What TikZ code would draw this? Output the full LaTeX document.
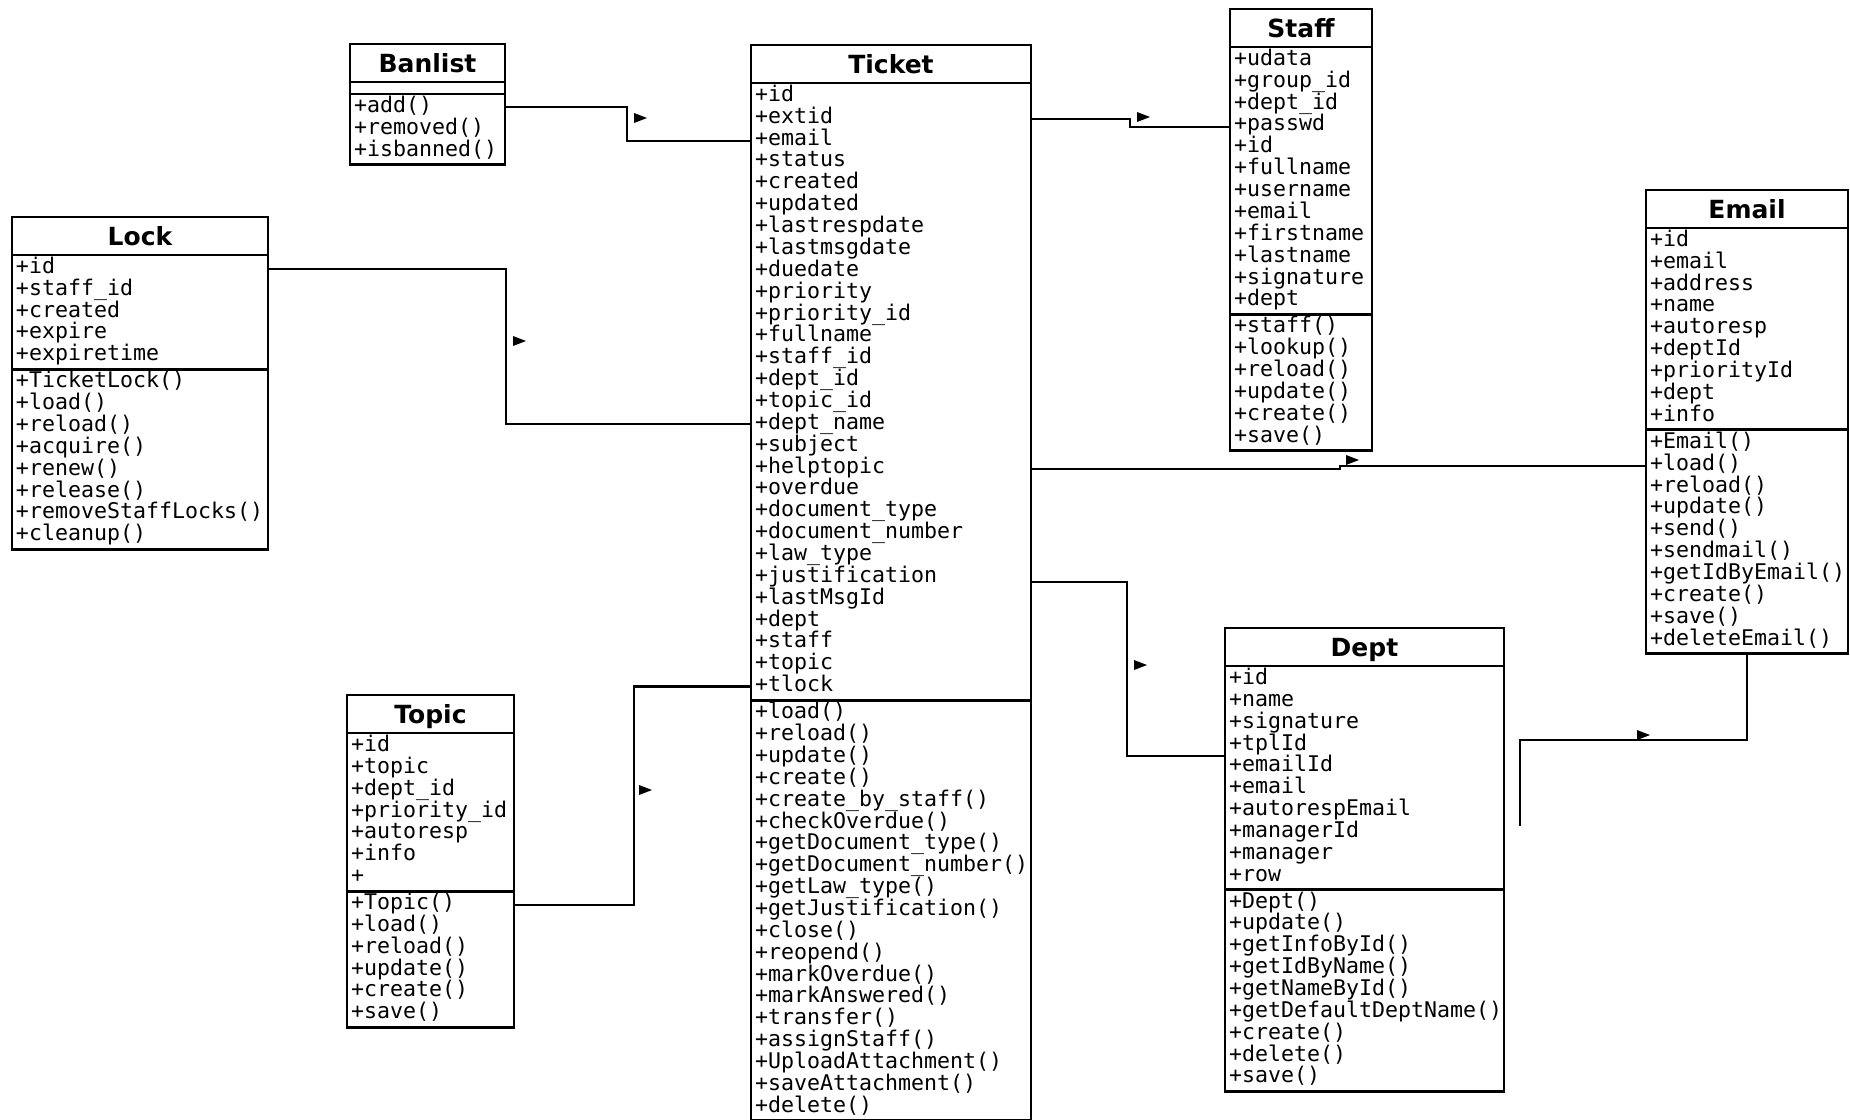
\documentclass[tikz,border=0pt]{standalone}
\usepackage{fontspec}
\usetikzlibrary{positioning}
\newfontfamily\umlmono{DejaVu Sans Mono}[HyphenChar=None]
\newfontfamily\umlsans{DejaVu Sans}
\tikzset{
  uml/.style={x=0.5pt, y=-0.5pt, line width=1.4pt,
              every node/.style={draw, outer sep=0pt, inner xsep=2pt, inner ysep=1pt}},
  chead/.style={minimum width=#1, minimum height=19pt, text height=9.1pt, text depth=0pt,
                font=\umlsans\bfseries\fontsize{12.5}{14}\selectfont},
  cpart/.style={text width=#1, align=left, font=\umlmono\fontsize{10.8}{10.93}\selectfont},
  cempty/.style={minimum width=#1, minimum height=6pt, inner sep=0pt},
  assoc/.style={line width=1.35pt}
}
\def\rowstrut{\lineskiplimit=-20pt\vrule height .7\baselineskip depth .3\baselineskip width 0pt}
% class box: name, corner, width (px), title, attributes, operations
\newcommand{\umlclass}[6]{
  \pgfmathsetlengthmacro\boxw{#3*0.5pt}
  \pgfmathsetlengthmacro\textw{#3*0.5pt-4pt}
  \node[chead=\boxw, anchor=north west] (#1-h) at #2 {#4};
  \node[cpart=\textw, below=0pt of #1-h] (#1-a) {\rowstrut#5\rowstrut};
  \node[cpart=\textw, below=0pt of #1-a] (#1-o) {\rowstrut#6\rowstrut};
}
\newcommand{\navmark}[1]{\fill #1 ++(-6,-5) -- ++(13,5) -- ++(-13,5) -- cycle;}

\begin{document}
\begin{tikzpicture}[uml]
\useasboundingbox (0,0) rectangle (1850,1119);

\umlclass{ticket}{(751,45)}{280}{Ticket}
  {+id\\+extid\\+email\\+status\\+created\\+updated\\+lastrespdate\\+lastmsgdate\\+duedate\\+priority\\+priority\_id\\+fullname\\+staff\_id\\+dept\_id\\+topic\_id\\+dept\_name\\+subject\\+helptopic\\+overdue\\+document\_type\\+document\_number\\+law\_type\\+justification\\+lastMsgId\\+dept\\+staff\\+topic\\+tlock}
  {+load()\\+reload()\\+update()\\+create()\\+create\_by\_staff()\\+checkOverdue()\\+getDocument\_type()\\+getDocument\_number()\\+getLaw\_type()\\+getJustification()\\+close()\\+reopend()\\+markOverdue()\\+markAnswered()\\+transfer()\\+assignStaff()\\+UploadAttachment()\\+saveAttachment()\\+delete()}
\umlclass{staff}{(1230,9)}{142}{Staff}
  {+udata\\+group\_id\\+dept\_id\\+passwd\\+id\\+fullname\\+username\\+email\\+firstname\\+lastname\\+signature\\+dept}
  {+staff()\\+lookup()\\+reload()\\+update()\\+create()\\+save()}
\umlclass{lock}{(12,217)}{256}{Lock}
  {+id\\+staff\_id\\+created\\+expire\\+expiretime}
  {+TicketLock()\\+load()\\+reload()\\+acquire()\\+renew()\\+release()\\+removeStaffLocks()\\+cleanup()}
\umlclass{email}{(1646,190)}{202}{Email}
  {+id\\+email\\+address\\+name\\+autoresp\\+deptId\\+priorityId\\+dept\\+info}
  {+Email()\\+load()\\+reload()\\+update()\\+send()\\+sendmail()\\+getIdByEmail()\\+create()\\+save()\\+deleteEmail()}
\umlclass{topic}{(347,695)}{167}{Topic}
  {+id\\+topic\\+dept\_id\\+priority\_id\\+autoresp\\+info\\+}
  {+Topic()\\+load()\\+reload()\\+update()\\+create()\\+save()}
\umlclass{dept}{(1225,628)}{279}{Dept}
  {+id\\+name\\+signature\\+tplId\\+emailId\\+email\\+autorespEmail\\+managerId\\+manager\\+row}
  {+Dept()\\+update()\\+getInfoById()\\+getIdByName()\\+getNameById()\\+getDefaultDeptName()\\+create()\\+delete()\\+save()}
% banlist has no attributes
\node[chead=77.5pt, anchor=north west] (banlist-h) at (350,44) {Banlist};
\node[cempty=77.5pt, below=0pt of banlist-h] (banlist-a) {};
\node[cpart=73.5pt, below=0pt of banlist-a] (banlist-o) {\rowstrut+add()\\+removed()\\+isbanned()\rowstrut};

% associations
\draw[assoc] ([yshift=-6.5pt]banlist-o.north east) -| (627,124) |- ([yshift=-29pt]ticket-a.north west);
\draw[assoc] ([yshift=-7pt]lock-a.north east) -| (506,340) |- ([yshift=-170.5pt]ticket-a.north west);
\draw[assoc] ([yshift=-7pt]topic-o.north east) -| (634,800) |- ([yshift=7pt]ticket-a.south west);
\draw[assoc] ([yshift=-18pt]ticket-a.north east) -| (1130,123) |- ([yshift=-40pt]staff-a.north west);
\draw[assoc] ([yshift=-193pt]ticket-a.north east) -| (1340,467) |- ([yshift=-18pt]email-o.north west);
\draw[assoc] ([yshift=-249.5pt]ticket-a.north east) -| (1127,670) |- ([yshift=-45pt]dept-a.north west);
\coordinate (loose) at (1520,826);
\draw[assoc] (email-o.south) |- (1600,740) -| (loose);
\navmark{(640,118)} \navmark{(519,341)} \navmark{(645,790)} \navmark{(1143,117)}
\navmark{(1352,460)} \navmark{(1140,665)} \navmark{(1643,735)}
\end{tikzpicture}
\end{document}
